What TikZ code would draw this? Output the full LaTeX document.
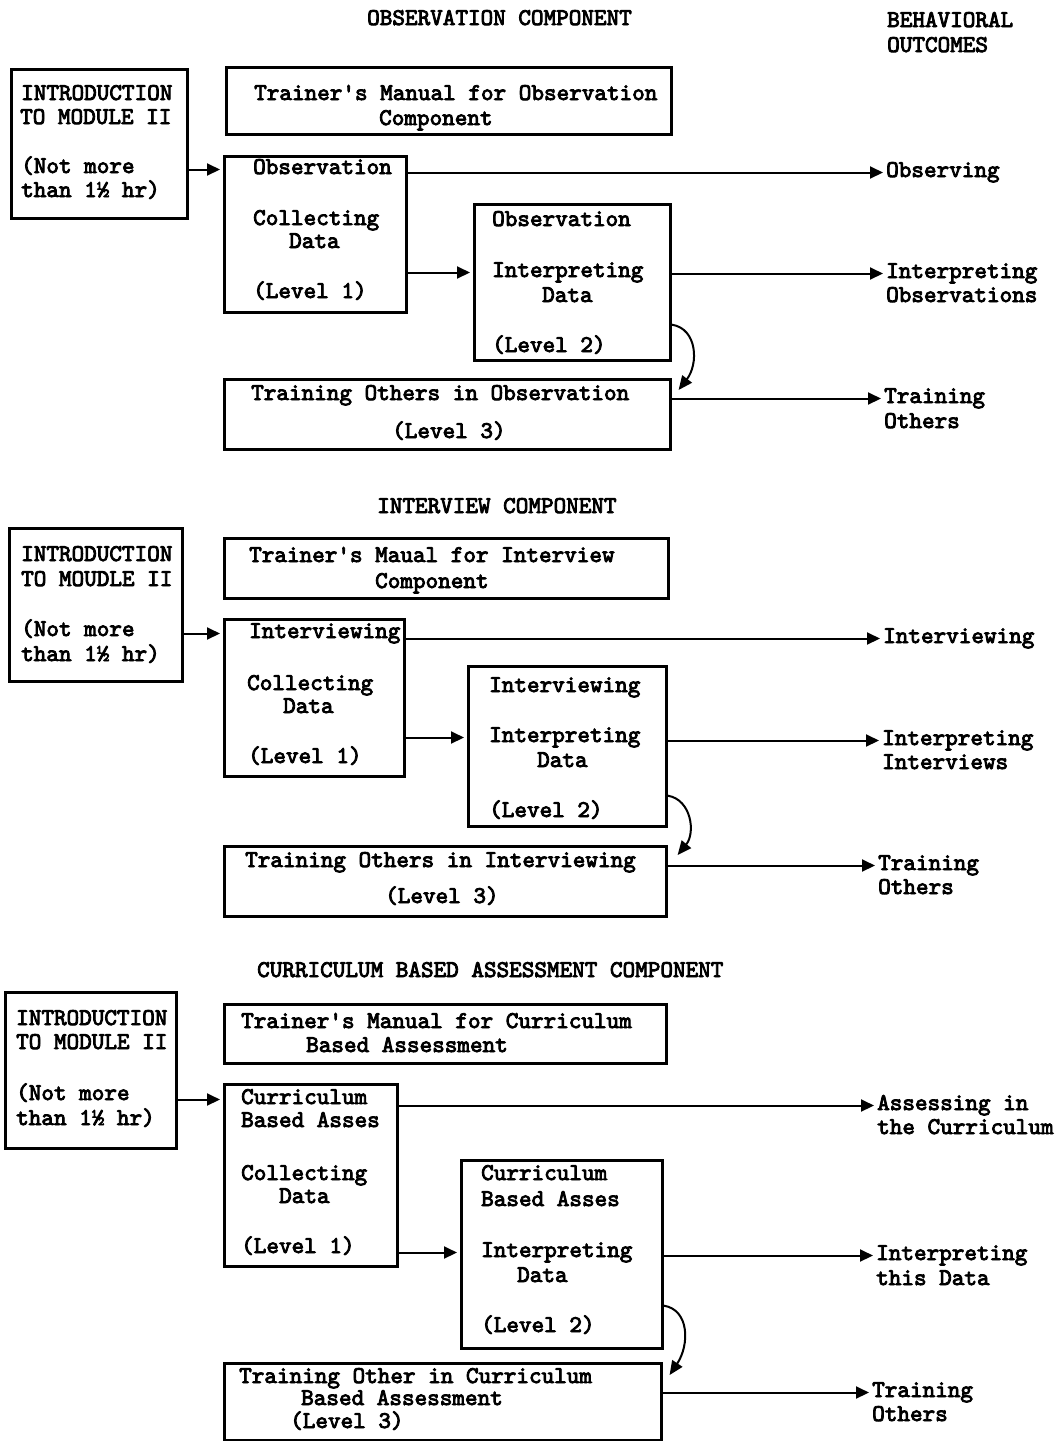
\documentclass[tikz,border=0pt]{standalone}
\usepackage{fontspec}
\newfontfamily\tw{lmmono10-regular}[Extension=.otf,FakeBold=3.5]
\usetikzlibrary{arrows.meta,calc}
\tikzset{
  box/.style={draw, line width=2.6pt, rectangle, anchor=north west, inner sep=0pt},
  tx/.style={anchor=base west, inner sep=0pt, text height=13pt, text depth=4pt,
    font=\tw\fontsize{24}{25}\selectfont},
  arr/.style={line width=2pt, -{Triangle[length=13pt,width=12pt]}, shorten >=3pt},
  carr/.style={line width=2pt, -{Triangle[length=14pt,width=12pt]}}
}
\begin{document}
\begin{tikzpicture}[x=1pt,y=-1pt]
\useasboundingbox[fill=white] (0,0) rectangle (1059,1441);

% ================= OBSERVATION COMPONENT =================
\node[tx] (t1) at (367,25) {OBSERVATION COMPONENT};
\node[tx] (h1) at (887,27) {BEHAVIORAL};
\node[tx] (h2) at (887,52) {OUTCOMES};

\node[box, minimum width=176pt, minimum height=149pt] (i1) at (10,68) {};
\node[tx] (i1a) at (21,100) {INTRODUCTION};
\node[tx] (i1b) at (20,124) {TO MODULE II};
\node[tx] (i1c) at (21,173) {(Not more};
\node[tx] (i1d) at (21,197) {than 1½ hr)};

\node[box, minimum width=445pt, minimum height=67pt] (m1) at (225,66) {};
\node[tx] (m1a) at (254,100) {Trainer's Manual for Observation};
\node[tx] (m1b) at (379,125) {Component};

\node[box, minimum width=182pt, minimum height=156pt] (b1) at (223,155) {};
\node[tx] (b1a) at (253,174) {Observation};
\node[tx] (b1b) at (253,225) {Collecting};
\node[tx] (b1c) at (289,248) {Data};
\node[tx] (b1d) at (253,298) {(Level 1)};

\node[box, minimum width=196pt, minimum height=156pt] (b2) at (473,203) {};
\node[tx] (b2a) at (492,226) {Observation};
\node[tx] (b2b) at (492,277) {Interpreting};
\node[tx] (b2c) at (542,302) {Data};
\node[tx] (b2d) at (492,352) {(Level 2)};

\node[box, minimum width=446pt, minimum height=70pt] (b3) at (223,378) {};
\node[tx] (b3a) at (251,400) {Training Others in Observation};
\node[tx] (b3b) at (392,438) {(Level 3)};

\node[tx] (o1) at (886,177) {Observing};
\node[tx] (o2a) at (886,278) {Interpreting};
\node[tx] (o2b) at (886,302) {Observations};
\node[tx] (o3a) at (884,403) {Training};
\node[tx] (o3b) at (884,428) {Others};

\draw[arr] (i1.east |- b1a.west) -- (b1.west |- b1a.west);
\draw[arr] (b1.east |- o1.west) -- (o1.west);
\draw[arr] (b1.east |- b2b.west) -- (b2.west |- b2b.west);
\draw[arr] (b2.east |- o2a.west) -- (o2a.west);
\draw[arr] (b3.east |- o3a.west) -- (o3a.west);
\draw[carr] ($(b2.south east)+(0,-37)$) .. controls +(26,4) and +(20,-26) .. ($(b3.north east)+(7,12)$);

% ================= INTERVIEW COMPONENT =================
\node[tx] (t2) at (377,513) {INTERVIEW COMPONENT};

\node[box, minimum width=173pt, minimum height=153pt] (i2) at (8,527) {};
\node[tx] (i2a) at (21,561) {INTRODUCTION};
\node[tx] (i2b) at (21,586) {TO MOUDLE II};
\node[tx] (i2c) at (21,636) {(Not more};
\node[tx] (i2d) at (21,661) {than 1½ hr)};

\node[box, minimum width=444pt, minimum height=60pt] (m2) at (223,537) {};
\node[tx] (m2a) at (249,562) {Trainer's Maual for Interview};
\node[tx] (m2b) at (375,588) {Component};

\node[box, minimum width=180pt, minimum height=157pt] (c1) at (223,618) {};
\node[tx] (c1a) at (249,638) {Interviewing};
\node[tx] (c1b) at (247,690) {Collecting};
\node[tx] (c1c) at (283,713) {Data};
\node[tx] (c1d) at (248,763) {(Level 1)};

\node[box, minimum width=198pt, minimum height=160pt] (c2) at (467,665) {};
\node[tx] (c2a) at (489,692) {Interviewing};
\node[tx] (c2b) at (489,742) {Interpreting};
\node[tx] (c2c) at (537,767) {Data};
\node[tx] (c2d) at (489,817) {(Level 2)};

\node[box, minimum width=442pt, minimum height=70pt] (c3) at (223,845) {};
\node[tx] (c3a) at (245,867) {Training Others in Interviewing};
\node[tx] (c3b) at (385,903) {(Level 3)};

\node[tx] (p1) at (883,643) {Interviewing};
\node[tx] (p2a) at (882,745) {Interpreting};
\node[tx] (p2b) at (882,769) {Interviews};
\node[tx] (p3a) at (878,870) {Training};
\node[tx] (p3b) at (878,894) {Others};

\draw[arr] (i2.east |- c1a.west) -- (c1.west |- c1a.west);
\draw[arr] (c1.east |- p1.west) -- (p1.west);
\draw[arr] (c1.east |- c2b.west) -- (c2.west |- c2b.west);
\draw[arr] (c2.east |- p2a.west) -- (p2a.west);
\draw[arr] (c3.east |- p3a.west) -- (p3a.west);
\draw[carr] ($(c2.south east)+(0,-32)$) .. controls +(24,4) and +(18,-22) .. ($(c3.north east)+(10,10)$);

% ================= CURRICULUM BASED ASSESSMENT COMPONENT =================
\node[tx] (t3) at (257,977) {CURRICULUM BASED ASSESSMENT COMPONENT};

\node[box, minimum width=171pt, minimum height=156pt] (i3) at (4,991) {};
\node[tx] (i3a) at (16,1025) {INTRODUCTION};
\node[tx] (i3b) at (16,1049) {TO MODULE II};
\node[tx] (i3c) at (16,1100) {(Not more};
\node[tx] (i3d) at (16,1125) {than 1½ hr)};

\node[box, minimum width=442pt, minimum height=59pt] (m3) at (223,1003) {};
\node[tx] (m3a) at (241,1028) {Trainer's Manual for Curriculum};
\node[tx] (m3b) at (306,1052) {Based Assessment};

\node[box, minimum width=173pt, minimum height=182pt] (d1) at (223,1083) {};
\node[tx] (d1a) at (241,1104) {Curriculum};
\node[tx] (d1b) at (241,1127) {Based Asses};
\node[tx] (d1c) at (241,1180) {Collecting};
\node[tx] (d1d) at (279,1203) {Data};
\node[tx] (d1e) at (241,1253) {(Level 1)};

\node[box, minimum width=201pt, minimum height=188pt] (d2) at (460,1159) {};
\node[tx] (d2a) at (481,1180) {Curriculum};
\node[tx] (d2b) at (481,1206) {Based Asses};
\node[tx] (d2c) at (481,1257) {Interpreting};
\node[tx] (d2d) at (517,1282) {Data};
\node[tx] (d2e) at (481,1332) {(Level 2)};

\node[box, minimum width=437pt, minimum height=77pt] (d3) at (223,1362) {};
\node[tx] (d3a) at (239,1383) {Training Other in Curriculum};
\node[tx] (d3b) at (301,1405) {Based Assessment};
\node[tx] (d3c) at (290,1428) {(Level 3)};

\node[tx] (q1a) at (877,1110) {Assessing in};
\node[tx] (q1b) at (877,1134) {the Curriculum};
\node[tx] (q2a) at (876,1260) {Interpreting};
\node[tx] (q2b) at (876,1285) {this Data};
\node[tx] (q3a) at (872,1397) {Training};
\node[tx] (q3b) at (872,1421) {Others};

\draw[arr] (i3.east |- d1a.west) -- (d1.west |- d1a.west);
\draw[arr] (d1.east |- q1a.west) -- (q1a.west);
\draw[arr] (d1.east |- d2c.west) -- (d2.west |- d2c.west);
\draw[arr] (d2.east |- q2a.west) -- (q2a.west);
\draw[arr] (d3.east |- q3a.west) -- (q3a.west);
\draw[carr] ($(d2.south east)+(0,-44)$) .. controls +(26,4) and +(20,-30) .. ($(d3.north east)+(7,13)$);
\end{tikzpicture}
\end{document}
